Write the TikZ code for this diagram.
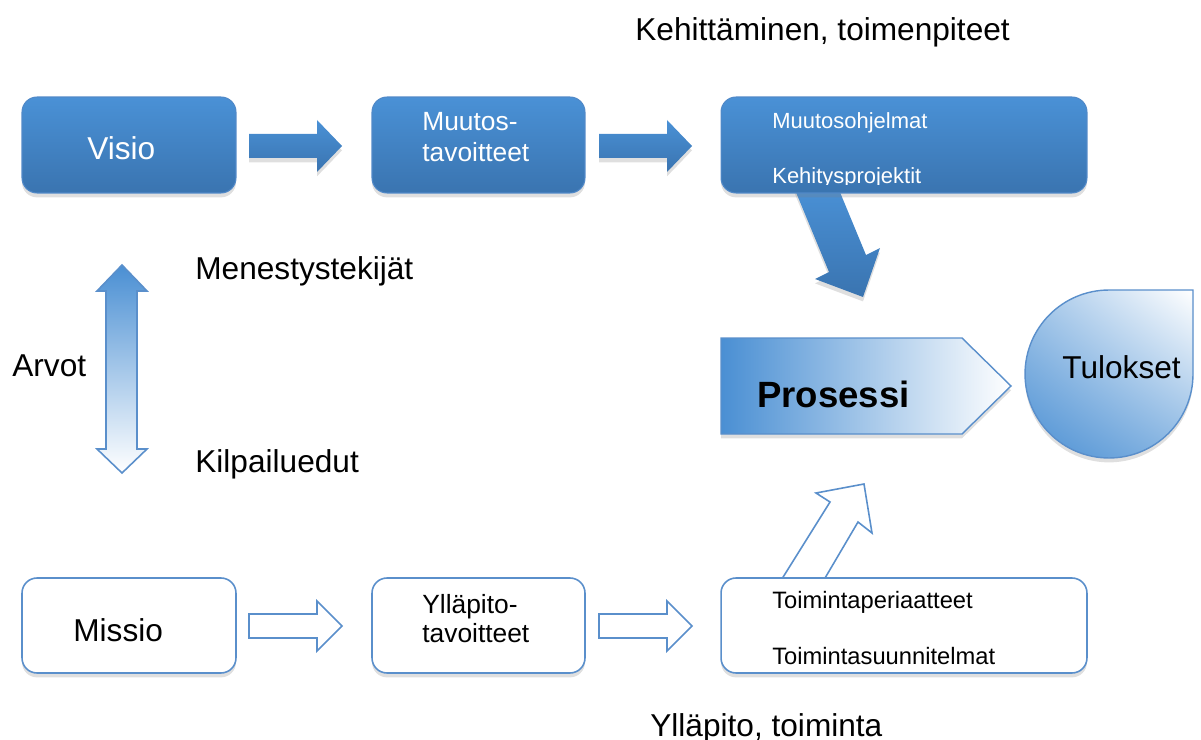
\documentclass[tikz,border=0pt]{standalone}
\usepackage{fontspec}
\setmainfont{Liberation Sans}
\usetikzlibrary{shadows,shadings}
\definecolor{btop}{HTML}{4A91D6}
\definecolor{bbot}{HTML}{3A74B0}
\definecolor{bedge}{HTML}{5189C8}
\definecolor{oedge}{HTML}{5A8FCB}
\definecolor{lblue}{HTML}{4A8FD3}
\begin{document}
\begin{tikzpicture}[x=0.02cm,y=-0.02cm,
  shad/.style={drop shadow={opacity=0.25, shadow xshift=0pt, shadow yshift=-2.5pt}},
  bluebox/.style={rectangle, rounded corners=0.3cm, top color=btop, bottom color=bbot, draw=bedge, line width=0.6pt, inner sep=0, shad},
  whitebox/.style={rectangle, rounded corners=0.3cm, fill=white, draw=oedge, line width=0.9pt, inner sep=0, shad},
  bluearrow/.style={top color=btop, bottom color=bbot, shad},
  whitearrow/.style={fill=white, draw=oedge, line width=0.9pt},
  big/.style={inner sep=0, anchor=base west, font=\fontsize{18}{21}\selectfont},
  mid/.style={inner sep=0, anchor=base west, font=\fontsize{15}{18}\selectfont},
  small/.style={inner sep=0, anchor=base west, font=\fontsize{12.5}{15}\selectfont},
  smallb/.style={inner sep=0, anchor=base west, font=\fontsize{13.5}{16}\selectfont}]
\useasboundingbox (0,0) rectangle (1201,740);

% headings
\node[big] (hk) at (635,41) {Kehittäminen, toimenpiteet};
\node[big] (hy) at (650,736) {Ylläpito, toiminta};

% diagonal arrow (behind Kehitys box)
\shade[bluearrow] (793,185) -- (829,272) -- (815,279) -- (863,297) -- (880,248) -- (866,255) -- (837,185) -- cycle;
% up outline arrow (behind Toiminta box)
\draw[whitearrow] (775,590) -- (830,502) -- (816,493) -- (864,484) -- (872,533) -- (858,522) -- (818,590) -- cycle;

% top row
\node[bluebox, minimum width=4.28cm, minimum height=1.92cm] (visio) at (129,145) {};
\node[big, text=white] (visioT) at (87,160) {Visio};
\node[bluebox, minimum width=4.26cm, minimum height=1.92cm] (muutos) at (478.5,145) {};
\node[mid, text=white] (muutosT1) at (422,131) {Muutos-};
\node[mid, text=white] (muutosT2) at (422,162) {tavoitteet};
\node[bluebox, minimum width=7.32cm, minimum height=1.92cm] (kehitys) at (904,145) {};
\node[small, text=white] (kehT1) at (772,129) {Muutosohjelmat};
\begin{scope}
\clip (721,97) rectangle (1087,184.6);
\node[small, text=white] (kehT2) at (772,184) {Kehitysprojektit};
\end{scope}

\shade[bluearrow] (249,134) -- (317,134) -- (317,120) -- (342,146) -- (317,172) -- (317,158) -- (249,158) -- cycle;
\shade[bluearrow] (599,134) -- (667,134) -- (667,120) -- (692,146) -- (667,172) -- (667,158) -- (599,158) -- cycle;

% middle left
\shade[top color=lblue, bottom color=white, draw=oedge, line width=0.9pt] (122,265) -- (147,291) -- (137,291) -- (137,449) -- (147,449) -- (122,473) -- (97,449) -- (106,449) -- (106,291) -- (97,291) -- cycle;
\node[big] (arvot) at (12,376) {Arvot};
\node[big] (menes) at (195,279) {Menestystekijät};
\node[big] (kilp) at (195,472) {Kilpailuedut};

% process
\shade[left color=lblue, right color=white, draw=oedge, line width=0.8pt, shad] (721,338) -- (962,338) -- (1011,386) -- (962,434) -- (721,434) -- cycle;
\node[inner sep=0, anchor=base west, font=\fontsize{20.8}{24}\selectfont\bfseries] (pros) at (757,407) {Prosessi};

% results
\shade[upper right=white, lower left=lblue, upper left=lblue!50, lower right=lblue!65, draw=oedge, line width=0.8pt, shad] (1193,290) -- (1193,374) arc[start angle=0, end angle=-270, radius=1.68cm] -- cycle;
\node[big] (tul) at (1062,378) {Tulokset};

% bottom row
\node[whitebox, minimum width=4.28cm, minimum height=1.9cm] (missio) at (129,625.5) {};
\node[big] (missioT) at (73,641) {Missio};
\node[whitebox, minimum width=4.26cm, minimum height=1.9cm] (yllap) at (478.5,625.5) {};
\node[mid] (yllT1) at (422,613) {Ylläpito-};
\node[mid] (yllT2) at (422,642) {tavoitteet};
\node[whitebox, minimum width=7.32cm, minimum height=1.9cm] (toim) at (904,625.5) {};
\node[smallb] (toimT1) at (772,608) {Toimintaperiaatteet};
\node[smallb] (toimT2) at (772,664) {Toimintasuunnitelmat};

\draw[whitearrow] (249,614) -- (317,614) -- (317,601) -- (342,626) -- (317,651) -- (317,638) -- (249,638) -- cycle;
\draw[whitearrow] (599,614) -- (667,614) -- (667,601) -- (692,626) -- (667,651) -- (667,638) -- (599,638) -- cycle;
\end{tikzpicture}
\end{document}
